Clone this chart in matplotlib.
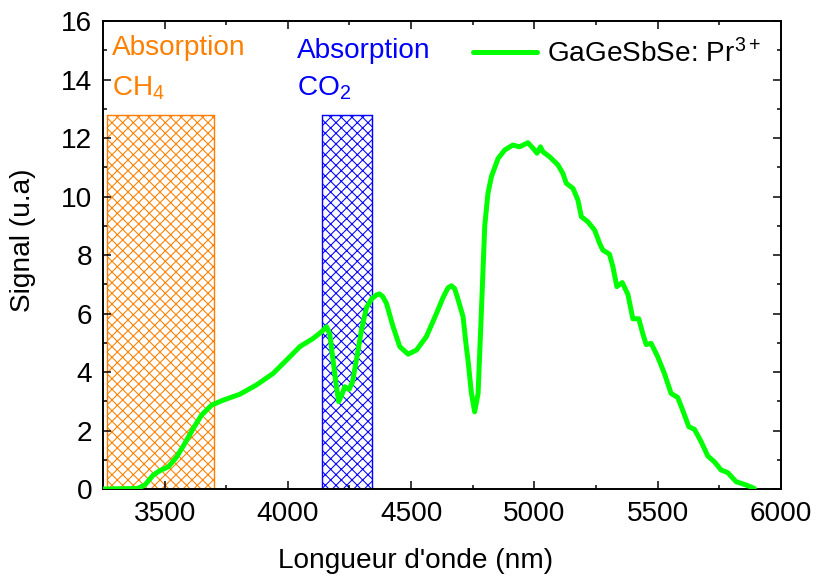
import matplotlib
matplotlib.use("Agg")
import matplotlib.pyplot as plt
from matplotlib.ticker import MultipleLocator

plt.rcParams['font.family'] = ['Liberation Sans', 'DejaVu Sans']
plt.rcParams['mathtext.fontset'] = 'custom'
plt.rcParams['mathtext.rm'] = 'Liberation Sans'
plt.rcParams['mathtext.it'] = 'Liberation Sans:italic'
plt.rcParams['hatch.linewidth'] = 0.6

# ---- data
wavelength = [3250, 3390, 3420, 3454, 3481, 3515, 3549, 3582, 3616, 3650,
              3691, 3738, 3805, 3873, 3940, 4008, 4049, 4103, 4140, 4157,
              4170, 4182, 4194, 4206, 4218, 4231, 4248, 4262, 4278, 4299,
              4319, 4340, 4360, 4372, 4385, 4400, 4427, 4454, 4488, 4522,
              4562, 4603, 4630, 4650, 4664, 4677, 4690, 4711, 4724, 4731,
              4745, 4758, 4772, 4785, 4799, 4812, 4826, 4853, 4880, 4913,
              4940, 4974, 4995, 5011, 5025, 5035, 5062, 5096, 5116, 5130,
              5157, 5177, 5191, 5217, 5245, 5265, 5278, 5305, 5319, 5335,
              5357, 5380, 5400, 5424, 5440, 5454, 5474, 5501, 5528, 5555,
              5582, 5602, 5627, 5650, 5677, 5704, 5731, 5758, 5785, 5819,
              5859, 5893]
signal = [0.00, 0.02, 0.14, 0.48, 0.63, 0.76, 1.10, 1.56, 2.07, 2.53,
          2.87, 3.04, 3.24, 3.56, 3.95, 4.52, 4.87, 5.15, 5.40, 5.55,
          5.30, 4.50, 3.70, 2.99, 3.20, 3.50, 3.40, 3.65, 4.40, 5.45,
          6.20, 6.50, 6.64, 6.67, 6.58, 6.35, 5.55, 4.87, 4.61, 4.75,
          5.21, 6.00, 6.55, 6.88, 6.95, 6.85, 6.50, 5.89, 4.87, 4.41,
          3.27, 2.64, 3.27, 6.00, 9.00, 10.11, 10.68, 11.30, 11.59, 11.76,
          11.70, 11.84, 11.65, 11.48, 11.70, 11.53, 11.36, 11.08, 10.79, 10.45,
          10.28, 9.88, 9.31, 9.14, 8.85, 8.40, 8.17, 8.03, 7.60, 6.92,
          7.06, 6.65, 5.82, 5.82, 5.32, 4.94, 4.98, 4.52, 3.95, 3.27,
          3.13, 2.70, 2.13, 2.04, 1.62, 1.13, 0.93, 0.65, 0.56, 0.25,
          0.14, 0.02]

ch4_band = (3265, 3700)
co2_band = (4140, 4340)
band_top = 12.8

green = '#00FF00'
orange = '#FF8000'
blue = '#0000FF'

DPI = 128
FS = 28 * 72 / DPI   # ~28 px text

fig = plt.figure(figsize=(817 / DPI, 581 / DPI), dpi=DPI)
ax = fig.add_axes([0.1261, 0.1583, 0.8295, 0.8055])

# absorption bands (hatched boxes)
ax.bar(ch4_band[0], band_top, width=ch4_band[1] - ch4_band[0], align='edge',
       facecolor='none', edgecolor=orange, hatch='xxxx', linewidth=0.8, zorder=1)
ax.bar(co2_band[0], band_top, width=co2_band[1] - co2_band[0], align='edge',
       facecolor='none', edgecolor=blue, hatch='xxxx', linewidth=0.8, zorder=1)

ax.plot(wavelength, signal, color=green, lw=2.8, solid_joinstyle='round',
        solid_capstyle='round', label='GaGeSbSe: Pr$^{3+}$', zorder=3)

ax.text(3286, 14.84, 'Absorption', color=orange, fontsize=FS, va='baseline')
ax.text(3286, 13.47, 'CH$_4$', color=orange, fontsize=FS, va='baseline')
ax.text(4036, 14.72, 'Absorption', color=blue, fontsize=FS, va='baseline')
ax.text(4036, 13.47, 'CO$_2$', color=blue, fontsize=FS, va='baseline')

ax.set_xlim(3250, 6000)
ax.set_ylim(0, 16)
ax.xaxis.set_major_locator(MultipleLocator(500))
ax.xaxis.set_minor_locator(MultipleLocator(250))
ax.yaxis.set_major_locator(MultipleLocator(2))
ax.yaxis.set_minor_locator(MultipleLocator(1))
ax.tick_params(which='both', direction='in', top=True, right=True,
               labelsize=FS, width=0.85)
ax.tick_params(which='major', length=4.5)
ax.tick_params(which='minor', length=2.25)
ax.tick_params(axis='x', pad=7.0)
ax.tick_params(axis='y', pad=6.0)
for s in ax.spines.values():
    s.set_linewidth(1.1)

ax.set_xlabel("Longueur d'onde (nm)", fontsize=FS)
ax.set_ylabel('Signal (u.a)', fontsize=FS)
ax.xaxis.set_label_coords(0.461, -0.126)
ax.yaxis.set_label_coords(-0.099, 0.532)

ax.legend(loc='upper left', bbox_to_anchor=(0.546, 0.962), frameon=False,
          fontsize=FS, handlelength=2.29, handletextpad=0.36,
          borderaxespad=0, borderpad=0)

fig.savefig('out.png', dpi=DPI)
